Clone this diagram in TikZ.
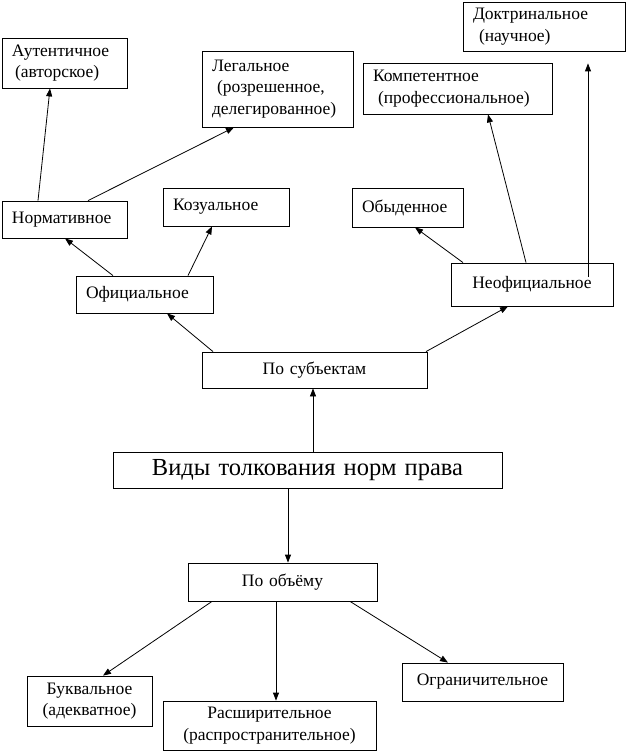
\documentclass[tikz,border=0pt]{standalone}
\usepackage{fontspec}
\setmainfont{Liberation Serif}
\usetikzlibrary{arrows.meta}
\newcommand\lbl{\fontsize{17.5}{21.5}\selectfont}
\newcommand\ttl{\fontsize{24.5}{29}\selectfont}
\hyphenpenalty=10000

\begin{document}
\begin{tikzpicture}[x=1pt,y=-1pt,>={Triangle[length=8pt,width=6pt]},line width=0.8pt,
  box/.style={rectangle,draw,inner xsep=10pt,inner ysep=3pt,font=\lbl}]
\useasboundingbox (0,0) rectangle (626,751);
\node [box,text width=142pt,minimum height=49pt,align=left] (dokt) at (544,26.5) {Доктринальное\\\hspace*{6pt}(научное)};
\node [box,text width=105pt,minimum height=50pt,align=left] (avt) at (64.5,63) {Аутентичное\\\hspace*{3pt}(авторское)};
\node [box,text width=131pt,minimum height=76pt,align=left] (leg) at (277.5,89) {Легальное\\\hspace*{5pt}(розрешенное,\\делегированное)};
\node [box,text width=169pt,minimum height=51pt,align=left] (komp) at (457.5,88.5) {Компетентное\\\hspace*{5pt}(профессиональное)};
\node [box,text width=105pt,minimum height=37pt,align=left] (norm) at (64.5,219.5) {Нормативное};
\node [box,text width=106pt,minimum height=38pt,align=left] (koz) at (226,207) {Козуальное};
\node [box,text width=91pt,minimum height=39pt,align=left] (obyd) at (407.5,207.5) {Обыденное};
\node [box,text width=117pt,minimum height=37pt,align=left] (ofic) at (144.5,294.5) {Официальное};
\node [box,text width=142pt,minimum height=43pt,align=center] (neof) at (532,284.5) {Неофициальное};
\node [box,text width=205pt,minimum height=36pt,align=center] (subj) at (314.5,370) {По субъектам};
\node [box,text width=369pt,minimum height=36pt,align=center,font=\ttl] (vidy) at (307.5,470) {Виды толкования норм права};
\node [box,text width=169pt,minimum height=38pt,align=center] (obem) at (282.5,582) {По объёму};
\node [box,text width=105pt,minimum height=50pt,align=center] (bukv) at (89.5,701) {Буквальное\\(адекватное)};
\node [box,text width=193pt,minimum height=49pt,align=center] (rassh) at (269.5,725.5) {Расширительное\\(распространительное)};
\node [box,text width=141pt,minimum height=38pt,align=center] (ogr) at (482.5,682) {Ограничительное};
\coordinate (doktend) at ([xshift=44pt,yshift=-12pt]dokt.south);

\draw [->] ([xshift=5.5pt]vidy.north) -- ([xshift=-1.5pt]subj.south);
\draw [->] ([xshift=-19.5pt]vidy.south) -- ([xshift=5.5pt]obem.north);
\draw [->] ([xshift=-101.5pt]subj.north) -- ([xshift=22.5pt]ofic.south);
\draw [->] ([xshift=111.5pt]subj.north) -- ([xshift=-24pt]neof.south);
\draw [->] ([xshift=-31.5pt]ofic.north) -- ([xshift=0.5pt]norm.south);
\draw [->] ([xshift=43.5pt]ofic.north) -- ([xshift=-14pt]koz.south);
\draw [->] ([xshift=-26.5pt]norm.north) -- ([xshift=-14.5pt]avt.south);
\draw [->] ([xshift=23.5pt]norm.north) -- ([xshift=-43.5pt]leg.south);
\draw [->] ([xshift=-69pt]neof.north) -- ([xshift=7.5pt]obyd.south);
\draw [->] ([xshift=-6pt]neof.north) -- ([xshift=30.5pt]komp.south);
\draw [->] ([xshift=56pt,yshift=7.5pt]neof.center) -- (doktend);
\draw [->] ([xshift=-70.5pt]obem.south) -- ([xshift=13.5pt]bukv.north);
\draw [->] ([xshift=-6.5pt]obem.south) -- ([xshift=6.5pt]rassh.north);
\draw [->] ([xshift=67.5pt]obem.south) -- ([xshift=-34.5pt]ogr.north);
\end{tikzpicture}
\end{document}
